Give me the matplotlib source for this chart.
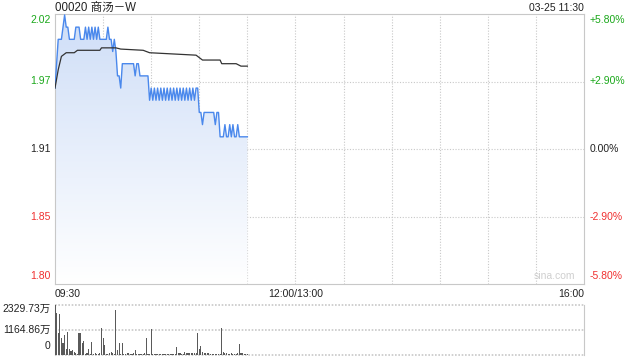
import numpy as np
import matplotlib
matplotlib.use("Agg")
import matplotlib.pyplot as plt
from matplotlib.patches import Polygon

plt.rcParams['font.family'] = ['Liberation Sans', 'Noto Sans CJK SC', 'DejaVu Sans']

# ---- data ----
title = "00020 商汤－W"
stamp = "03-25 11:30"
pre_close = 1.91

# minute index from 09:30 (lunch break removed), one price per minute
price = [1.96, 1.98, 2.00, 2.00, 2.00, 2.01, 2.02, 2.01, 2.01, 2.00,
         2.00, 2.00, 2.00, 2.01, 2.01, 2.01, 2.00, 2.00, 2.00, 2.01,
         2.00, 2.01, 2.00, 2.01, 2.00, 2.01, 2.00, 2.01, 2.00, 2.00,
         2.00, 2.00, 2.00, 2.01, 2.00, 2.00, 1.99, 2.00, 1.99, 1.97,
         1.97, 1.96, 1.98, 1.98, 1.98, 1.98, 1.98, 1.98, 1.98, 1.98,
         1.97, 1.98, 1.98, 1.97, 1.97, 1.97, 1.97, 1.97, 1.97, 1.95,
         1.96, 1.95, 1.96, 1.95, 1.96, 1.95, 1.96, 1.95, 1.96, 1.95,
         1.96, 1.95, 1.96, 1.95, 1.96, 1.95, 1.96, 1.95, 1.96, 1.95,
         1.96, 1.95, 1.96, 1.95, 1.96, 1.95, 1.96, 1.95, 1.96, 1.96,
         1.94, 1.94, 1.93, 1.94, 1.94, 1.94, 1.94, 1.94, 1.94, 1.94,
         1.93, 1.94, 1.94, 1.92, 1.92, 1.92, 1.93, 1.92, 1.92, 1.93,
         1.92, 1.93, 1.92, 1.92, 1.93, 1.92, 1.92, 1.92, 1.92, 1.92,
         1.92]

avg_min = [0, 2, 4, 7, 12, 14, 28, 29, 38, 41, 55, 59, 88, 92, 103, 104, 113, 116, 120]
avg_val = [1.960, 1.975, 1.986, 1.989, 1.989, 1.991, 1.991, 1.993, 1.993, 1.992,
           1.991, 1.989, 1.987, 1.983, 1.983, 1.980, 1.980, 1.978, 1.978]

# volume in 万, one bar per minute
volume = [2330, 1972, 1010, 1910, 777, 544, 932, 264, 1056, 264,
          200, 230, 155, 78, 40, 1010, 1040, 575, 668, 47,
          78, 264, 40, 621, 47, 78, 47, 30, 109, 1258,
          792, 466, 30, 47, 78, 140, 78, 30, 2097, 233,
          575, 47, 575, 30, 47, 109, 78, 47, 30, 78,
          233, 47, 30, 30, 30, 47, 78, 808, 47, 30,
          1196, 40, 40, 40, 40, 40, 40, 40, 40, 40,
          40, 40, 40, 40, 40, 40, 388, 78, 109, 40,
          40, 155, 78, 78, 78, 78, 78, 78, 78, 1040,
          280, 420, 124, 109, 109, 93, 78, 62, 62, 47,
          62, 47, 47, 47, 1258, 124, 93, 78, 62, 62,
          78, 62, 47, 47, 78, 528, 93, 93, 62, 47,
          30]
vol_max = 2329.73
vol_mid = 1164.86

price_ticks = [2.02, 1.97, 1.91, 1.85, 1.80]
pct_ticks = ["+5.80%", "+2.90%", "0.00%", "-2.90%", "-5.80%"]
tick_colors = ['#1aa81a', '#1aa81a', '#222222', '#f03030', '#f03030']
x_labels = ["09:30", "12:00/13:00", "16:00"]
x_label_pos = [0, 150, 330]

# ---- layout ----
grey = '#c8c8c8'
ymax = pre_close * 1.058
ymin = pre_close * 0.942
t = np.arange(len(price))

fig = plt.figure(figsize=(6.4, 3.6), dpi=100)
ax = fig.add_axes([55/640, 1-284/360, 529/640, 270/360])
axv = fig.add_axes([55/640, 1-355/360, 529/640, 50/360])

ax.set_xlim(0, 330)
ax.set_ylim(ymin, ymax)
for s in ax.spines.values():
	s.set_color(grey)
ax.set_xticks([])
ax.set_yticks([])
for gx in range(30, 330, 30):
	ax.axvline(gx, color=grey, lw=0.8, ls=(0, (1, 1.5)), zorder=1)
for i in range(1, 4):
	gy = ymin + (ymax - ymin) * i / 4
	ax.axhline(gy, color=grey, lw=0.8, ls=(0, (1, 1.5)), zorder=1)

# gradient fill under the price line
verts = [(0, ymin)] + list(zip(t, price)) + [(t[-1], ymin)]
poly = Polygon(verts, closed=True, facecolor='none', edgecolor='none')
ax.add_patch(poly)
grad = np.linspace(1, 0, 256).reshape(-1, 1)
top_c = np.array([0.81, 0.87, 0.97])
img = np.ones((256, 1, 3)) - grad[..., None] * (1 - top_c)
im = ax.imshow(img, extent=[0, t[-1], ymin, max(price)], aspect='auto', zorder=2, origin='upper')
im.set_clip_path(poly)

ax.plot(t, price, color='#4a88ec', lw=1.0, zorder=4)
ax.plot(avg_min, avg_val, color='#333333', lw=0.9, zorder=5)

# side labels
for i, (p, pc, c) in enumerate(zip(price_ticks, pct_ticks, tick_colors)):
	yfrac = 1 - i / 4
	va = 'top' if i == 0 else ('bottom' if i == 4 else 'center')
	off = -1 if i == 0 else (2 if i == 4 else 0)
	ax.annotate("%.2f" % p, (0, yfrac), xycoords='axes fraction', xytext=(-3, off),
	            textcoords='offset points', ha='right', va=va, color=c, fontsize=7.5)
	ax.annotate(pc, (1, yfrac), xycoords='axes fraction', xytext=(4, off),
	            textcoords='offset points', ha='left', va=va, color=c, fontsize=7.5)

for lab, pos, ha in zip(x_labels, x_label_pos, ['left', 'center', 'right']):
	ax.annotate(lab, (pos, 0), xycoords=('data', 'axes fraction'), xytext=(0, -7),
	            textcoords='offset points', ha=ha, va='center', color='#222222', fontsize=7.5)

fig.text(55/640, 1 - 1.5/360, title, ha='left', va='top', fontsize=8.3, color='#222222')
fig.text(584/640, 1 - 3/360, stamp, ha='right', va='top', fontsize=7.5, color='#222222')
ax.text(0.983, 0.012, "sina.com", transform=ax.transAxes, ha='right', va='bottom', fontsize=7.5, color='#cfcfcf')

# ---- volume ----
axv.set_xlim(0, 330)
axv.set_ylim(0, vol_max)
axv.bar(t, volume, width=0.7, color='#5a5a5a', zorder=3)
axv.set_xticks([])
axv.set_yticks([])
for side in ['top', 'bottom']:
	axv.spines[side].set_visible(False)
for side in ['left', 'right']:
	axv.spines[side].set_color(grey)
for gy in [0, vol_mid, vol_max]:
	axv.axhline(gy, color=grey, lw=1.2, ls=(0, (1, 1)), zorder=1, clip_on=False)

vol_labels = ["%.2f万" % vol_max, "%.2f万" % vol_mid, "0"]
for lab, yf, va, off in zip(vol_labels, [1, 0.5, 0], ['top', 'center', 'bottom'], [1, 0, 3]):
	axv.annotate(lab, (0, yf), xycoords='axes fraction', xytext=(-3, off),
	             textcoords='offset points', ha='right', va=va, color='#222222', fontsize=7.5)

fig.savefig('out.png', dpi=100)
